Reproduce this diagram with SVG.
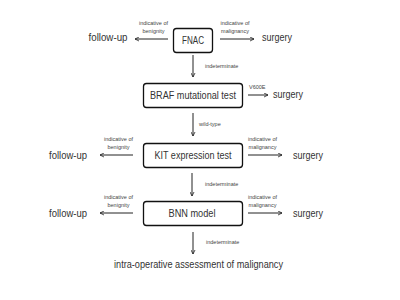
<svg xmlns="http://www.w3.org/2000/svg" width="400" height="300" viewBox="0 0 400 300">
<defs>
<marker id="ah" viewBox="0 0 10 10" refX="9" refY="5" markerWidth="5" markerHeight="5" orient="auto" markerUnits="userSpaceOnUse">
<path d="M1,1 L9,5 L1,9" fill="none" stroke="#222" stroke-width="1.6"/>
</marker>
</defs>
<style>
.box{fill:#fff;stroke:#111;stroke-width:1.3}
.t{font-family:"Liberation Sans",Arial,sans-serif;font-size:10px;fill:#333}
.o{font-family:"Liberation Sans",Arial,sans-serif;font-size:10px;fill:#333}
.s{font-family:"Liberation Sans",Arial,sans-serif;font-size:5.5px;fill:#444}
.c line{stroke:#222;stroke-width:1;marker-end:url(#ah)}
</style>
<rect width="400" height="300" fill="#fff"/>
<g id="fnac"><rect class="box" x="173.5" y="28.5" width="39" height="24" rx="3"/><text class="t" x="193" y="44" text-anchor="middle" textLength="22" lengthAdjust="spacingAndGlyphs">FNAC</text></g>
<g id="braf"><rect class="box" x="143.5" y="83.5" width="99" height="24" rx="3"/><text class="t" x="193" y="99" text-anchor="middle" textLength="86" lengthAdjust="spacingAndGlyphs">BRAF mutational test</text></g>
<g id="kit"><rect class="box" x="143.5" y="143.5" width="99" height="24" rx="3"/><text class="t" x="193" y="159" text-anchor="middle" textLength="77" lengthAdjust="spacingAndGlyphs">KIT expression test</text></g>
<g id="bnn"><rect class="box" x="143.5" y="201.5" width="99" height="24" rx="3"/><text class="t" x="192" y="217" text-anchor="middle" textLength="47" lengthAdjust="spacingAndGlyphs">BNN model</text></g>
<g id="fu1"><text class="o" x="108" y="41" text-anchor="middle" textLength="39" lengthAdjust="spacingAndGlyphs">follow-up</text></g>
<g id="sg1"><text class="o" x="277" y="41" text-anchor="middle" textLength="30" lengthAdjust="spacingAndGlyphs">surgery</text></g>
<g id="sg2"><text class="o" x="288" y="98" text-anchor="middle" textLength="30" lengthAdjust="spacingAndGlyphs">surgery</text></g>
<g id="fu2"><text class="o" x="68" y="159" text-anchor="middle" textLength="38" lengthAdjust="spacingAndGlyphs">follow-up</text></g>
<g id="sg3"><text class="o" x="308" y="159" text-anchor="middle" textLength="30" lengthAdjust="spacingAndGlyphs">surgery</text></g>
<g id="fu3"><text class="o" x="68" y="217" text-anchor="middle" textLength="38" lengthAdjust="spacingAndGlyphs">follow-up</text></g>
<g id="sg4"><text class="o" x="308" y="217" text-anchor="middle" textLength="30" lengthAdjust="spacingAndGlyphs">surgery</text></g>
<g id="iom"><text class="o" x="198.5" y="268" text-anchor="middle" textLength="169" lengthAdjust="spacingAndGlyphs">intra-operative assessment of malignancy</text></g>
<g class="c" id="connectors">
<line x1="168" y1="39" x2="135" y2="39"/>
<line x1="220" y1="39" x2="254" y2="39"/>
<line x1="193" y1="55" x2="193" y2="77"/>
<line x1="248" y1="95" x2="268" y2="95"/>
<line x1="193" y1="113" x2="193" y2="136"/>
<line x1="133" y1="155" x2="100" y2="155"/>
<line x1="248" y1="155" x2="282" y2="155"/>
<line x1="192" y1="173" x2="192" y2="196"/>
<line x1="133" y1="213" x2="100" y2="213"/>
<line x1="248" y1="213" x2="282" y2="213"/>
<line x1="193" y1="232" x2="193" y2="254"/>
<g id="labels">
<text class="s" x="153.5" y="25" text-anchor="middle">indicative of</text>
<text class="s" x="153.5" y="33" text-anchor="middle">benignity</text>
<text class="s" x="235" y="25" text-anchor="middle">indicative of</text>
<text class="s" x="235" y="33" text-anchor="middle">malignancy</text>
<text class="s" x="205" y="68">indeterminate</text>
<text class="s" x="249" y="89">V600E</text>
<text class="s" x="199" y="126">wild-type</text>
<text class="s" x="118.5" y="141" text-anchor="middle">indicative of</text>
<text class="s" x="118.5" y="149" text-anchor="middle">benignity</text>
<text class="s" x="262.5" y="141" text-anchor="middle">indicative of</text>
<text class="s" x="262.5" y="149" text-anchor="middle">malignancy</text>
<text class="s" x="205" y="186">indeterminate</text>
<text class="s" x="118.5" y="199" text-anchor="middle">indicative of</text>
<text class="s" x="118.5" y="207" text-anchor="middle">benignity</text>
<text class="s" x="262.5" y="199" text-anchor="middle">indicative of</text>
<text class="s" x="262.5" y="207" text-anchor="middle">malignancy</text>
<text class="s" x="206" y="244">indeterminate</text>
</g>
</g>
</svg>
